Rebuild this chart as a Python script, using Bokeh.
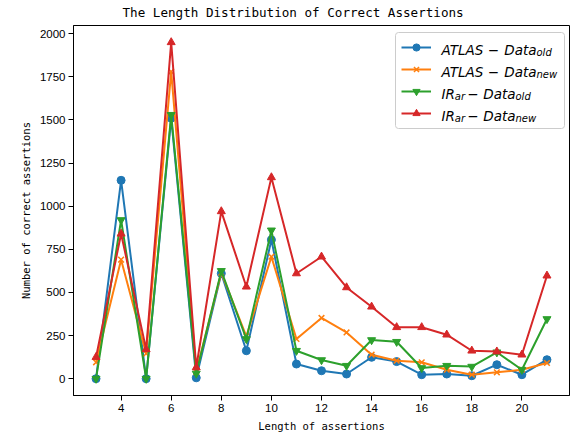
from bokeh.plotting import figure
from bokeh.models import Label, Legend, LegendItem, FixedTicker, Range1d, BoxAnnotation
from bokeh.core.properties import value
from bokeh.embed import file_html
from bokeh.resources import INLINE

# ---- data ----
lengths = list(range(3, 22))
atlas_old = [0, 1150, 0, 1510, 5, 610, 162, 805, 85, 46, 27, 124, 99, 23, 27, 17, 81, 23, 110]
atlas_new = [95, 690, 145, 1780, 40, 615, 245, 707, 230, 352, 268, 139, 104, 95, 52, 23, 37, 52, 91]
ir_old = [0, 920, 0, 1530, 30, 625, 230, 860, 162, 108, 75, 224, 214, 62, 75, 70, 153, 52, 346]
ir_new = [125, 840, 170, 1950, 65, 970, 533, 1167, 610, 707, 529, 417, 298, 298, 255, 162, 157, 139, 597]
x_ticks = [4, 6, 8, 10, 12, 14, 16, 18, 20]
y_ticks = [0, 250, 500, 750, 1000, 1250, 1500, 1750, 2000]

title_text = "The Length Distribution of Correct Assertions"
x_label = "Length of assertions"
y_label = "Number of correct assertions"

series = [
    (atlas_old, "#1f77b4", "circle"),
    (atlas_new, "#ff7f0e", "x"),
    (ir_old, "#2ca02c", "inverted_triangle"),
    (ir_new, "#d62728", "triangle"),
]

W, H = 575, 437
FL, FB = 73, 395  # frame left / bottom in image coords


def fx(px):
    return px - FL


def fy(py):
    return FB - py


p = figure(width=W, height=H, output_backend="svg", toolbar_location=None,
           x_range=Range1d(2.1, 21.9), y_range=Range1d(-97.5, 2047.5),
           min_border_left=73, min_border_right=6, min_border_top=25, min_border_bottom=42)
p.xgrid.visible = False
p.ygrid.visible = False
p.outline_line_color = "black"
p.outline_line_alpha = 1.0
p.outline_line_width = 1
p.background_fill_color = "white"
p.border_fill_color = "white"

p.title.text = title_text
p.title.align = "left"
p.title.offset = 49
p.title.vertical_align = "top"
p.title.standoff = 8
p.title.text_font = "DejaVu Sans Mono"
p.title.text_font_size = "12.6px"
p.title.text_font_style = "normal"
p.title.text_color = "black"

p.xaxis.ticker = FixedTicker(ticks=x_ticks)
p.yaxis.ticker = FixedTicker(ticks=y_ticks)
p.xaxis.axis_label = x_label
p.yaxis.axis_label = y_label
p.xaxis.axis_label_standoff = 5
p.yaxis.axis_label_standoff = 5
for ax in (p.xaxis[0], p.yaxis[0]):
    ax.axis_line_color = "black"
    ax.major_tick_line_color = "black"
    ax.major_tick_out = 5
    ax.major_tick_in = 0
    ax.minor_tick_line_color = None
    ax.major_label_text_font = "Liberation Sans"
    ax.major_label_text_font_size = "11.5px"
    ax.major_label_text_color = "black"
    ax.major_label_standoff = 3
    ax.axis_label_text_font = "DejaVu Sans Mono"
    ax.axis_label_text_font_size = "10.5px"
    ax.axis_label_text_font_style = "normal"
    ax.axis_label_text_color = "black"

items = []
for vals, col, mk in series:
    ln = p.line(lengths, vals, line_color=col, line_width=2)
    sc = p.scatter(lengths, vals, marker=mk, size=8, line_color=col, fill_color=col,
                   line_width=1.5 if mk == "x" else 1)
    items.append(LegendItem(label=value(""), renderers=[ln, sc]))

# legend frame (background + border) drawn as a box so that the texts sit on top
legend_box = BoxAnnotation(left=fx(395), right=fx(564), top=fy(32), bottom=fy(128),
                           left_units="screen", right_units="screen",
                           top_units="screen", bottom_units="screen",
                           fill_color="white", fill_alpha=0.8,
                           line_color="#cccccc", line_width=1, line_alpha=1.0,
                           border_radius=3, level="annotation")
p.add_layout(legend_box)

legend = Legend(items=items, location=(fx(395), fy(128)), margin=0, padding=6, spacing=4,
                glyph_width=30, glyph_height=18, label_width=117, label_height=18,
                label_standoff=10, label_text_font_size="10px",
                border_line_alpha=0, background_fill_alpha=0)
p.add_layout(legend)

# legend texts with subscripts: (text, kind, x, align)
MAIN, SUB = "13.5px", "10px"
rows = [45, 67, 89, 111]
legend_parts = [
    [("ATLAS", "main", 441, "left"), ("−", "minus", 493, "center"), ("Data", "main", 536, "right"), ("old", "sub", 536, "left")],
    [("ATLAS", "main", 441, "left"), ("−", "minus", 493, "center"), ("Data", "main", 536, "right"), ("new", "sub", 536, "left")],
    [("IR", "main", 441, "left"), ("ar", "sub", 454.3, "left"), ("−", "minus", 472.5, "center"), ("Data", "main", 515, "right"), ("old", "sub", 515, "left")],
    [("IR", "main", 441, "left"), ("ar", "sub", 454.3, "left"), ("−", "minus", 472.5, "center"), ("Data", "main", 515, "right"), ("new", "sub", 515, "left")],
]
for c, parts in zip(rows, legend_parts):
    for txt, kind, xp, al in parts:
        base = c + 7 if kind == "sub" else c + 4
        size = SUB if kind == "sub" else MAIN
        p.add_layout(Label(x=fx(xp), y=fy(base), x_units="screen", y_units="screen", text=txt,
                           level="overlay",
                           text_font="DejaVu Sans",
                           text_font_style="normal" if kind == "minus" else "italic",
                           text_font_size=size,
                           text_align=al, text_baseline="alphabetic", text_color="black"))

open("out.html", "w").write(file_html(p, INLINE))
